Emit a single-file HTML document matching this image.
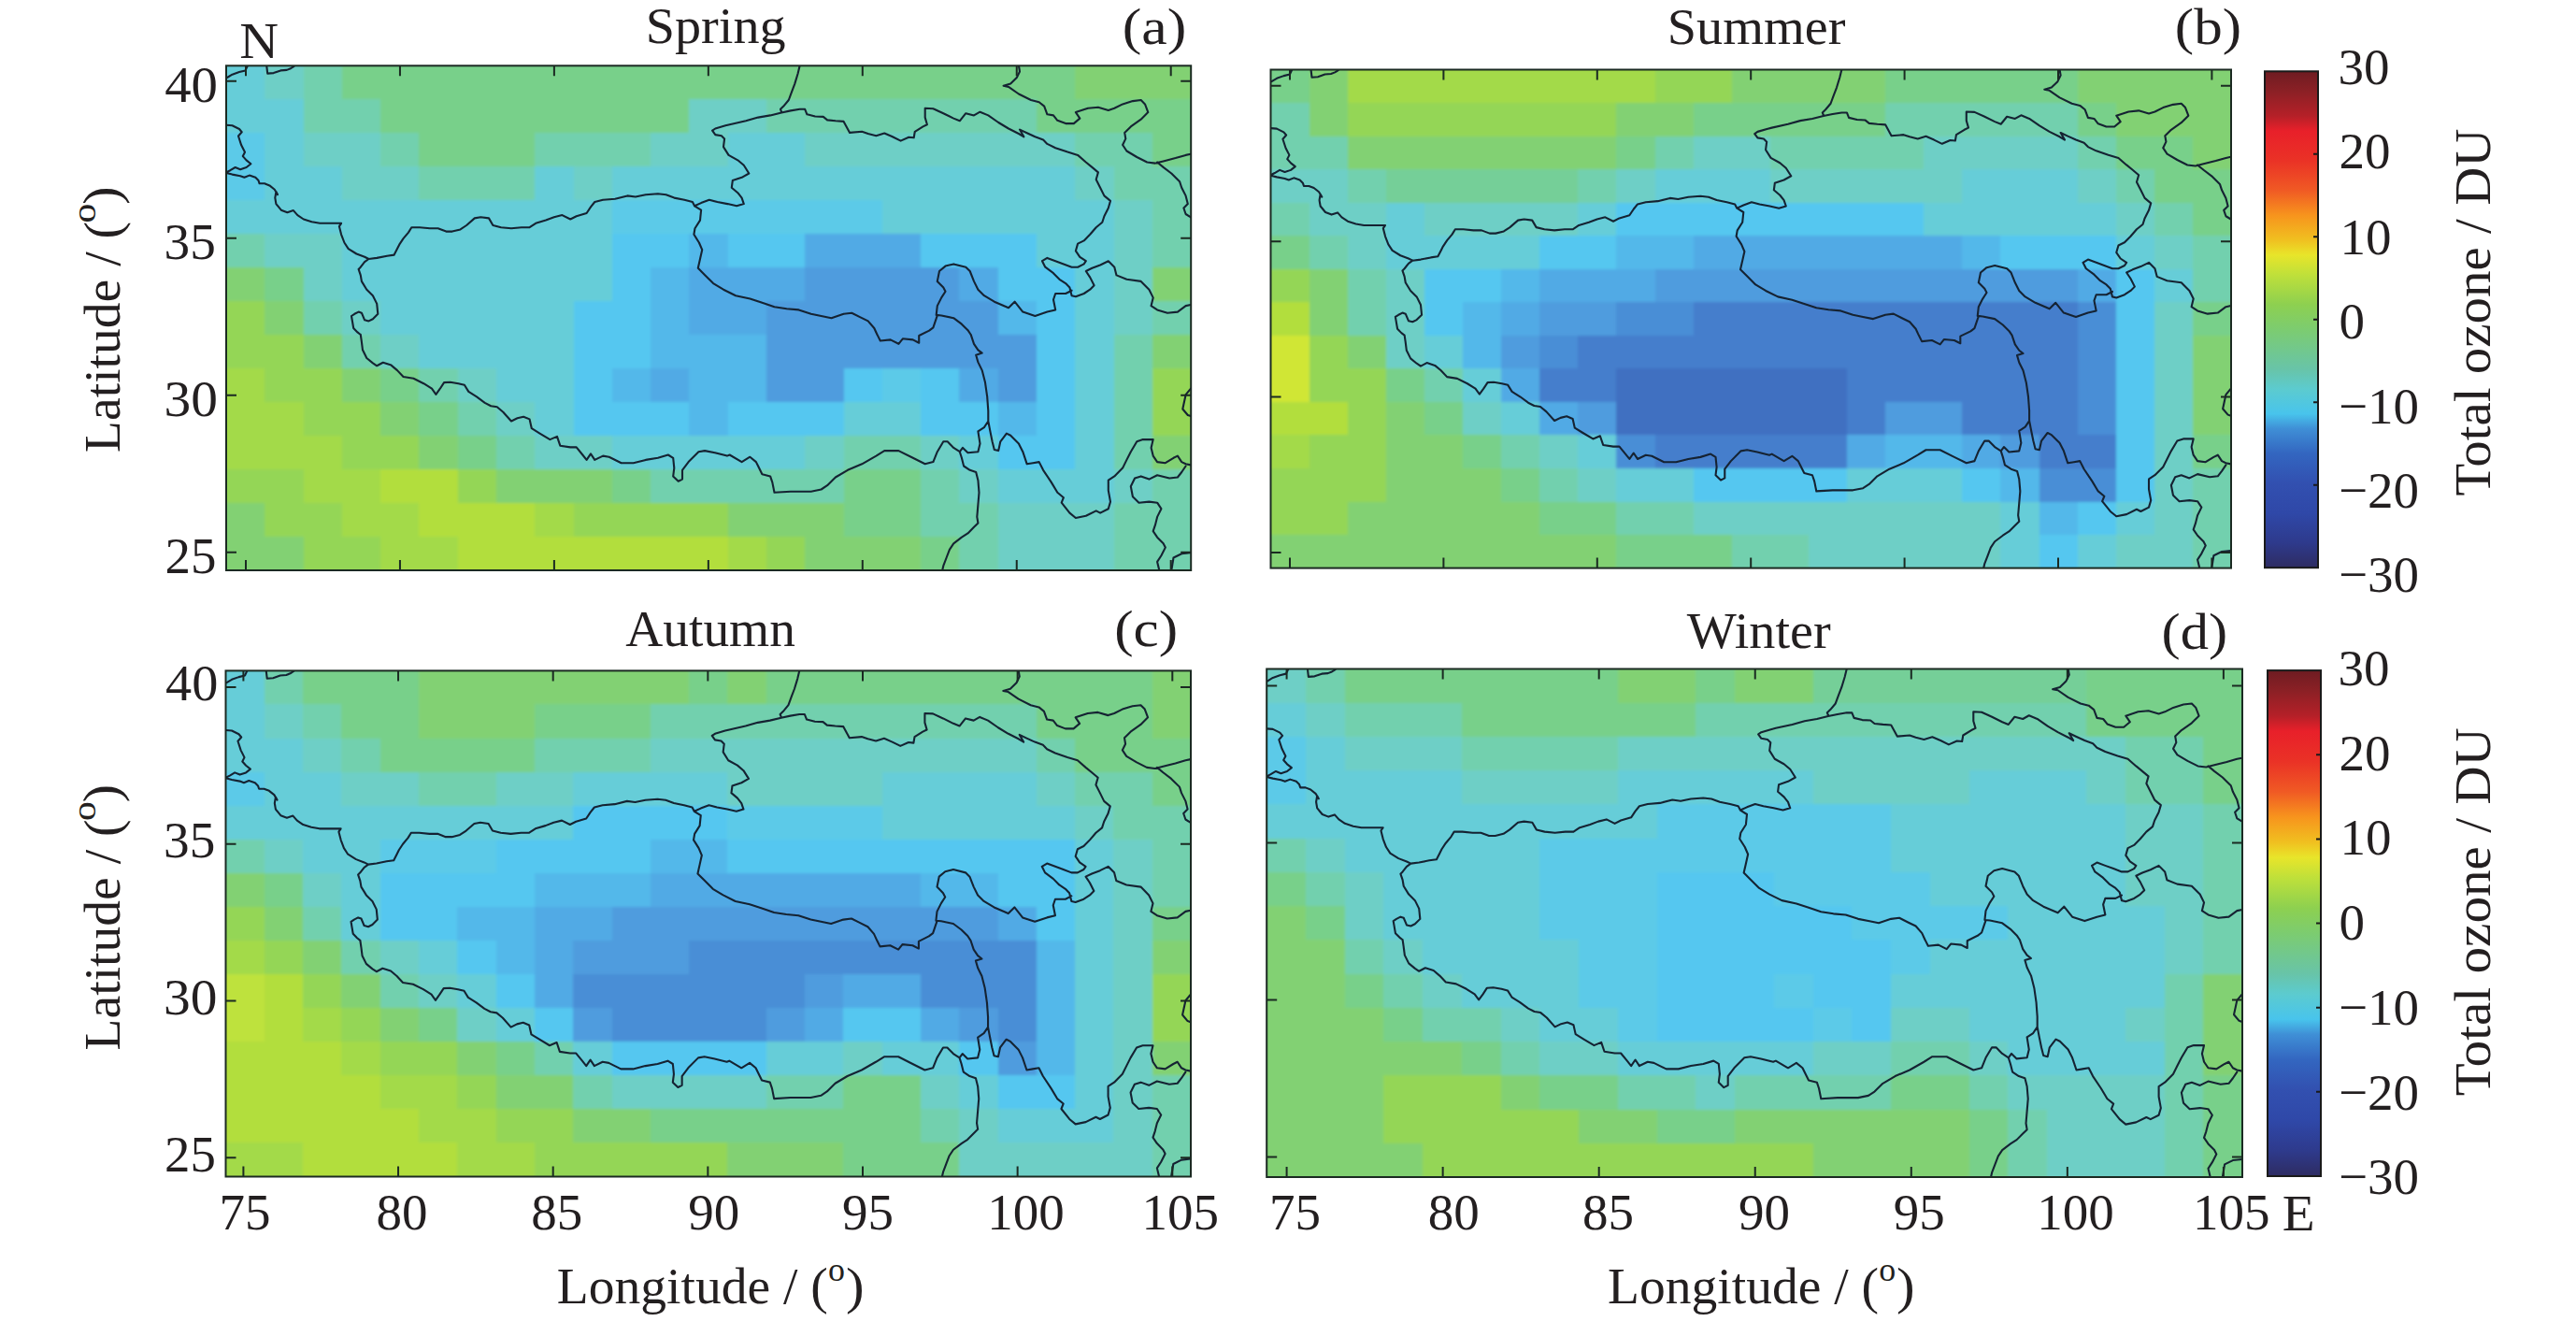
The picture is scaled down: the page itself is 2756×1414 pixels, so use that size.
<!DOCTYPE html><html><head><meta charset="utf-8"><title>Seasonal total ozone anomaly maps</title><style>html,body{margin:0;padding:0;background:#fff;}svg{display:block;}text{font-family:"Liberation Serif","Times New Roman",serif;fill:#231f20;}</style></head><body>
<svg xmlns="http://www.w3.org/2000/svg" width="2756" height="1414" viewBox="0 0 2756 1414">
<defs>
<linearGradient id="cb" x1="0" y1="0" x2="0" y2="1"><stop offset="0" stop-color="#6e1c22"/><stop offset="0.04" stop-color="#8b2025"/><stop offset="0.09" stop-color="#b52028"/><stop offset="0.12" stop-color="#e8202a"/><stop offset="0.18" stop-color="#ea3226"/><stop offset="0.24" stop-color="#f05a24"/><stop offset="0.29" stop-color="#f7941d"/><stop offset="0.34" stop-color="#f0c020"/><stop offset="0.37" stop-color="#e8e52a"/><stop offset="0.41" stop-color="#bfe03a"/><stop offset="0.47" stop-color="#8dd050"/><stop offset="0.52" stop-color="#7ccc70"/><stop offset="0.6" stop-color="#68c4a8"/><stop offset="0.64" stop-color="#5ccbcf"/><stop offset="0.69" stop-color="#48c4ec"/><stop offset="0.72" stop-color="#3f8fd6"/><stop offset="0.77" stop-color="#3366c0"/><stop offset="0.83" stop-color="#3250b0"/><stop offset="0.89" stop-color="#2f48a8"/><stop offset="0.95" stop-color="#2e3a8c"/><stop offset="1" stop-color="#2e2c62"/></linearGradient>
<filter id="bl" x="-2%" y="-2%" width="104%" height="104%"><feGaussianBlur stdDeviation="1.8"/></filter><filter id="bl2" x="-1%" y="-1%" width="102%" height="102%"><feGaussianBlur stdDeviation="0.45"/></filter>
<path id="bd" d="M243.0 83.0 248.5 79.7 256.0 77.0 262.5 75.4 265.0 70.0M285.2 70.0 286.2 78.6 292.7 78.1 300.3 75.4 306.8 74.9 311.0 73.2 314.3 71.1 315.4 70.0M242.0 133.7 248.5 134.2 256.0 138.0 258.7 141.2 255.0 145.5 258.2 155.3 262.0 162.8 259.8 167.1 263.6 171.4 268.4 175.2 263.6 179.0 257.1 181.2 251.7 179.0 246.3 182.2 242.0 184.4M242.0 184.9 248.5 186.6 257.1 188.2 261.4 189.8 266.8 187.6 273.3 189.8 276.5 193.0 277.6 196.3 283.0 196.3 288.4 198.4 293.8 202.7 297.0 208.1 295.4 205.1 294.3 211.6 295.4 218.1 300.8 224.7 307.4 227.3 313.9 225.1 318.3 230.1 324.8 234.5 333.5 237.3 342.2 238.8 353.1 238.8 365.1 238.8 362.9 242.1 365.1 250.8 368.4 259.5 372.7 266.1 381.4 271.5 390.1 274.8 394.5 277.0M394.5 277.0 403.2 275.9 414.1 273.7 421.7 272.6 425.0 266.1 427.2 261.7 431.5 255.2 437.0 248.6 440.3 243.2 449.0 243.2 459.9 244.3 468.6 244.3 477.3 247.6 483.8 247.6 492.5 245.4 499.1 241.0 507.8 233.4 514.3 232.3 523.0 233.4 527.4 241.0 536.1 243.2 547.0 244.3 557.9 243.2 566.6 243.2 573.2 238.8 584.0 235.6 592.8 232.3 601.5 230.1 610.2 234.5 616.7 231.2 627.6 228.0 632.0 221.4 636.3 216.0 645.1 213.8 658.1 212.7 671.2 209.4 679.9 210.5 690.8 208.3 703.9 207.3 712.6 208.3 721.3 211.6 732.2 213.8 740.9 216.0 743.1 220.3M394.5 277.0 390.1 280.2 385.8 285.7 383.6 287.9 385.8 294.4 386.9 300.9 392.3 309.7 398.9 316.2 403.2 324.9 404.3 335.8 398.9 341.2 394.5 343.4 390.1 342.3 386.9 334.7 383.6 333.6 379.3 335.8 376.0 338.0 377.1 344.5 378.2 351.0 382.5 355.4 385.8 358.0M855.7 70.0 853.6 78.7 850.3 89.6 847.0 98.3 843.8 107.0 838.3 113.6 835.0 116.8 836.1 119.7M762.1 139.7 765.3 137.5 776.2 134.3 780.6 133.2 798.0 129.3 811.1 125.6 824.1 123.4 836.1 120.5 845.9 118.4 855.7 116.8 861.2 116.8 863.4 122.3 872.1 124.5 880.8 124.9 885.1 128.4 893.9 129.3 902.6 129.9 909.1 141.9 922.2 140.8 928.7 143.0 937.4 145.2 946.2 142.5 954.9 146.3 963.6 150.6 972.3 146.7 977.7 147.3 978.8 140.8 987.5 135.4 991.9 133.2 989.7 125.6 989.7 115.8 998.4 116.2 1009.3 121.2 1020.2 126.6 1026.8 129.3 1033.3 121.2 1042.0 123.4 1048.5 119.7 1057.3 123.4 1068.2 131.0 1079.0 137.5 1089.9 143.0 1095.4 146.3 1091.0 138.6 1098.7 142.3 1107.4 146.3 1116.1 149.5 1120.4 153.9 1129.2 158.2 1142.2 162.6 1153.1 165.9 1161.8 173.5 1168.4 178.9 1174.9 184.4 1172.7 192.0 1177.1 200.7 1181.4 209.4 1188.0 214.9 1185.8 222.5 1181.4 231.2 1179.3 237.8 1172.7 243.2 1166.2 250.8 1159.7 257.4 1153.1 260.6 1150.9 268.3 1155.3 274.8 1161.8 279.2 1159.7 282.4 1153.1 285.7 1146.6 285.7 1137.9 282.4 1129.2 279.2 1120.4 275.9 1115.0 279.2 1118.3 285.7 1127.0 292.2 1133.5 298.8 1140.1 303.1 1144.4 307.5 1146.6 316.2 1150.9 317.3 1159.7 314.0 1166.2 309.7 1170.6 305.3 1166.2 296.6 1161.8 290.0 1168.4 286.8 1177.1 283.5 1185.8 279.2 1192.3 285.7 1194.5 294.4 1205.4 298.8 1220.7 300.9 1229.4 309.7 1233.7 318.4 1231.6 327.1 1238.1 331.4 1249.0 334.7 1259.9 333.6 1268.6 327.1 1274.0 326.0M1146.6 310.7 1140.1 314.0 1129.2 314.0 1127.0 320.5 1129.2 331.4 1120.4 333.6 1107.4 338.0 1094.3 333.6 1085.6 322.7 1079.0 329.3 1063.8 322.7 1052.9 316.2 1046.4 309.7 1042.0 300.9 1037.7 290.0 1033.3 285.7 1020.2 282.4 1011.5 284.6 1005.0 290.0 1002.8 300.9 1009.3 307.5 1011.5 311.8 1007.2 318.4 1002.8 327.1 1001.7 336.9 1007.2 337.5 1020.2 340.2 1028.9 346.7 1035.5 353.2 1038.7 358.0M762.1 139.7 765.3 144.1 771.9 145.2 775.1 148.4 774.0 157.1 779.5 165.9 789.3 171.3 795.8 176.8 801.3 185.5 793.6 189.8 783.8 193.1 782.8 200.7 789.3 206.2 793.6 211.6 795.8 218.1 788.2 220.3 778.4 218.1 767.5 216.0 758.8 213.8 750.1 217.1 743.1 220.3M743.1 220.3 750.1 224.7 749.0 235.6 743.5 244.3 742.4 250.8 747.9 259.5 751.2 267.2 749.0 277.0 746.8 286.8 754.4 294.4 763.1 303.1 774.0 309.7 787.1 316.2 802.4 319.5 815.4 323.8 828.5 328.2 841.6 330.3 854.6 331.4 867.7 335.8 878.6 338.0 889.5 340.2 902.6 335.8 911.3 334.7 920.0 339.1 928.7 343.4 935.3 351.0 938.5 358.0M1089.9 70.0 1091.0 76.5 1087.8 83.1 1081.2 89.6 1073.6 91.8 1079.0 92.9 1089.9 100.5 1103.0 107.0 1111.7 109.2 1117.2 113.6 1120.4 122.3 1127.0 123.4 1131.3 128.8 1140.1 132.1 1148.8 132.1 1155.3 126.6 1150.9 120.1 1164.0 115.8 1174.9 114.7 1185.8 117.9 1192.3 115.8 1201.1 111.4 1211.9 108.1 1220.7 107.0 1225.0 111.4 1228.3 120.1 1220.7 127.7 1209.8 135.4 1203.2 141.9 1204.3 148.4 1201.1 155.0 1205.4 161.5 1216.3 168.0 1227.2 173.5 1235.9 174.6 1244.6 172.4 1257.7 169.1 1268.6 165.9 1274.0 164.8M1238.1 173.5 1244.6 178.9 1253.3 185.5 1262.1 194.2 1264.2 200.7 1268.6 209.4 1270.8 218.1 1266.4 222.5 1268.6 229.0 1274.0 232.3M385.8 357.9 386.9 365.6 388.0 374.3 392.3 383.0 398.9 388.4 403.2 391.3 409.8 387.8 418.5 390.6 425.0 396.1 431.5 403.0 442.4 404.8 453.3 410.2 462.0 415.7 466.4 421.8 470.8 415.7 475.1 409.1 481.7 408.7 490.4 410.2 496.9 411.8 501.3 418.9 510.0 424.4 518.7 430.9 525.2 434.2 531.8 435.3 538.3 440.7 547.0 450.5 553.5 447.3 560.1 445.7 566.6 448.4 568.8 458.2 577.5 463.6 588.4 470.1 596.0 466.9 599.3 476.7 610.2 478.4 616.7 478.4 623.3 486.5 627.6 491.9 632.0 485.4 636.3 491.9 645.1 487.6 651.6 488.7 664.7 495.2 677.7 495.2 690.8 491.9 703.9 489.8 714.8 486.5 720.2 489.8 721.3 500.6 720.2 509.4 725.7 514.8 730.0 512.6 730.0 502.8 736.6 494.1 747.4 483.2 754.0 482.1 764.9 484.3 777.9 487.6 780.6 486.5 793.6 494.1 802.4 488.7 808.9 494.1 811.1 498.5 815.4 507.2 824.1 509.4 826.3 515.9 828.5 526.8 845.9 525.7 867.7 525.7 878.6 523.5 885.1 519.2 893.9 510.5 906.9 502.8 922.2 496.3 937.4 487.6 946.2 482.1 961.4 482.1 976.7 489.8 989.7 496.3 998.4 494.1 1002.8 483.2 1009.3 472.3 1013.7 472.3 1020.2 478.9 1026.8 483.2 1030.0 478.9 1035.5 484.3 1046.4 483.2 1048.5 474.5 1046.4 461.4 1052.9 457.1 1057.3 450.5M938.5 357.9 941.8 364.5 952.7 363.4 961.4 367.8 965.8 362.3 976.7 363.4 983.2 366.7 983.2 359.0 994.1 353.6 998.4 350.3 1000.6 343.8 1002.8 337.3M1038.7 357.9 1042.0 367.8 1046.4 374.3 1050.7 377.6 1044.2 379.7 1046.4 387.4 1050.7 396.1 1054.0 409.1 1056.2 424.4 1057.3 439.6 1057.3 450.5 1059.4 461.4 1061.6 472.3 1063.8 481.0 1068.2 482.1 1070.3 472.3 1076.9 463.6 1081.2 465.8 1089.9 474.5 1094.3 483.2 1098.7 496.3 1105.2 495.2 1111.7 494.1 1116.1 502.8 1124.8 515.9 1131.3 526.8 1137.9 532.2 1135.7 537.7 1144.4 548.6 1150.9 554.0 1161.8 551.8 1172.7 546.4 1177.1 548.6 1185.8 544.2 1188.0 536.6 1185.8 524.6 1185.8 513.7 1192.3 509.4 1201.1 500.6 1205.4 491.9 1209.8 483.2 1216.3 472.3 1222.8 470.1 1233.7 470.1 1231.6 478.9 1233.7 487.6 1238.1 494.1 1246.8 495.2 1255.5 489.8 1259.9 487.6 1264.2 494.1 1268.6 496.3 1274.0 497.4M1268.6 498.5 1264.2 505.0 1259.9 510.5 1251.2 511.5 1238.1 508.3 1229.4 512.6 1220.7 509.4 1214.1 511.5 1209.8 520.3 1211.9 531.2 1218.5 537.7 1229.4 536.6 1238.1 537.7 1242.4 544.2 1238.1 552.9 1235.9 561.7 1233.7 568.2 1238.1 574.7 1244.6 581.3 1246.8 585.6 1242.4 594.3 1238.1 600.9 1240.3 610.0M1253.3 610.0 1255.5 596.5 1264.2 592.2 1274.0 591.1M1274.0 415.7 1268.6 422.2 1265.3 437.5 1270.8 444.0 1274.0 445.1M1026.8 483.2 1028.9 489.8 1031.1 498.5 1037.7 502.8 1044.2 505.0 1046.4 513.7 1047.5 526.8 1046.4 539.9 1045.3 552.9 1046.4 559.5 1042.0 563.8 1035.5 570.4 1028.9 574.7 1020.2 581.3 1015.9 587.8 1012.6 596.5 1009.3 605.2 1008.2 610.0" fill="none" stroke="#142433" stroke-width="2.1" stroke-linejoin="round" stroke-linecap="round" vector-effect="non-scaling-stroke"/>
<clipPath id="cpa"><rect x="242" y="70.3" width="1032.2" height="539.7"/></clipPath>
<clipPath id="cpb"><rect x="1359.5" y="74.5" width="1027.5" height="533.1"/></clipPath>
<clipPath id="cpc"><rect x="241.5" y="717.4" width="1032.5" height="541.1"/></clipPath>
<clipPath id="cpd"><rect x="1355.2" y="715.5" width="1043.8" height="543.5"/></clipPath>
</defs>
<g clip-path="url(#cpa)"><g filter="url(#bl)" shape-rendering="crispEdges">
<rect x="234" y="62.3" width="49.89" height="44.58" fill="#66CDD8"/>
<rect x="283.29" y="62.3" width="41.89" height="44.58" fill="#6ECFC6"/>
<rect x="324.58" y="62.3" width="41.89" height="44.58" fill="#72D0AE"/>
<rect x="365.86" y="62.3" width="785.07" height="44.58" fill="#78D08A"/>
<rect x="1150.34" y="62.3" width="132.46" height="44.58" fill="#82D173"/>
<rect x="234" y="106.28" width="91.18" height="36.58" fill="#66CDD8"/>
<rect x="324.58" y="106.28" width="83.18" height="36.58" fill="#72D0AE"/>
<rect x="407.15" y="106.28" width="330.9" height="36.58" fill="#78D08A"/>
<rect x="737.46" y="106.28" width="83.18" height="36.58" fill="#6ECFC6"/>
<rect x="820.03" y="106.28" width="289.62" height="36.58" fill="#72D0AE"/>
<rect x="1109.05" y="106.28" width="173.75" height="36.58" fill="#78D08A"/>
<rect x="234" y="142.26" width="49.89" height="36.58" fill="#5BCAE8"/>
<rect x="283.29" y="142.26" width="41.89" height="36.58" fill="#66CDD8"/>
<rect x="324.58" y="142.26" width="83.18" height="36.58" fill="#6ECFC6"/>
<rect x="407.15" y="142.26" width="41.89" height="36.58" fill="#72D0AE"/>
<rect x="448.44" y="142.26" width="124.46" height="36.58" fill="#78D08A"/>
<rect x="572.3" y="142.26" width="124.46" height="36.58" fill="#72D0AE"/>
<rect x="696.17" y="142.26" width="83.18" height="36.58" fill="#6ECFC6"/>
<rect x="778.74" y="142.26" width="83.18" height="36.58" fill="#66CDD8"/>
<rect x="861.32" y="142.26" width="289.62" height="36.58" fill="#6ECFC6"/>
<rect x="1150.34" y="142.26" width="83.18" height="36.58" fill="#72D0AE"/>
<rect x="1232.91" y="142.26" width="49.89" height="36.58" fill="#78D08A"/>
<rect x="234" y="178.24" width="49.89" height="36.58" fill="#5BCAE8"/>
<rect x="283.29" y="178.24" width="83.18" height="36.58" fill="#66CDD8"/>
<rect x="365.86" y="178.24" width="83.18" height="36.58" fill="#6ECFC6"/>
<rect x="448.44" y="178.24" width="124.46" height="36.58" fill="#72D0AE"/>
<rect x="572.3" y="178.24" width="41.89" height="36.58" fill="#66CDD8"/>
<rect x="613.59" y="178.24" width="41.89" height="36.58" fill="#6ECFC6"/>
<rect x="654.88" y="178.24" width="496.06" height="36.58" fill="#66CDD8"/>
<rect x="1150.34" y="178.24" width="41.89" height="36.58" fill="#6ECFC6"/>
<rect x="1191.62" y="178.24" width="91.18" height="36.58" fill="#72D0AE"/>
<rect x="234" y="214.22" width="421.48" height="36.58" fill="#66CDD8"/>
<rect x="654.88" y="214.22" width="289.62" height="36.58" fill="#5BCAE8"/>
<rect x="943.9" y="214.22" width="248.33" height="36.58" fill="#66CDD8"/>
<rect x="1191.62" y="214.22" width="41.89" height="36.58" fill="#6ECFC6"/>
<rect x="1232.91" y="214.22" width="49.89" height="36.58" fill="#72D0AE"/>
<rect x="234" y="250.2" width="49.89" height="36.58" fill="#72D0AE"/>
<rect x="283.29" y="250.2" width="83.18" height="36.58" fill="#6ECFC6"/>
<rect x="365.86" y="250.2" width="289.62" height="36.58" fill="#66CDD8"/>
<rect x="654.88" y="250.2" width="83.18" height="36.58" fill="#54C7F0"/>
<rect x="737.46" y="250.2" width="41.89" height="36.58" fill="#53B8EA"/>
<rect x="778.74" y="250.2" width="83.18" height="36.58" fill="#54C7F0"/>
<rect x="861.32" y="250.2" width="124.46" height="36.58" fill="#51AAE5"/>
<rect x="985.18" y="250.2" width="124.46" height="36.58" fill="#54C7F0"/>
<rect x="1109.05" y="250.2" width="83.18" height="36.58" fill="#66CDD8"/>
<rect x="1191.62" y="250.2" width="41.89" height="36.58" fill="#6ECFC6"/>
<rect x="1232.91" y="250.2" width="49.89" height="36.58" fill="#72D0AE"/>
<rect x="234" y="286.18" width="49.89" height="36.58" fill="#82D173"/>
<rect x="283.29" y="286.18" width="41.89" height="36.58" fill="#78D08A"/>
<rect x="324.58" y="286.18" width="41.89" height="36.58" fill="#6ECFC6"/>
<rect x="365.86" y="286.18" width="289.62" height="36.58" fill="#66CDD8"/>
<rect x="654.88" y="286.18" width="41.89" height="36.58" fill="#54C7F0"/>
<rect x="696.17" y="286.18" width="41.89" height="36.58" fill="#53B8EA"/>
<rect x="737.46" y="286.18" width="124.46" height="36.58" fill="#51AAE5"/>
<rect x="861.32" y="286.18" width="165.75" height="36.58" fill="#4F9CDE"/>
<rect x="1026.47" y="286.18" width="41.89" height="36.58" fill="#51AAE5"/>
<rect x="1067.76" y="286.18" width="83.18" height="36.58" fill="#54C7F0"/>
<rect x="1150.34" y="286.18" width="41.89" height="36.58" fill="#66CDD8"/>
<rect x="1191.62" y="286.18" width="41.89" height="36.58" fill="#6ECFC6"/>
<rect x="1232.91" y="286.18" width="49.89" height="36.58" fill="#82D173"/>
<rect x="234" y="322.16" width="49.89" height="36.58" fill="#94D657"/>
<rect x="283.29" y="322.16" width="41.89" height="36.58" fill="#82D173"/>
<rect x="324.58" y="322.16" width="41.89" height="36.58" fill="#72D0AE"/>
<rect x="365.86" y="322.16" width="41.89" height="36.58" fill="#6ECFC6"/>
<rect x="407.15" y="322.16" width="207.04" height="36.58" fill="#66CDD8"/>
<rect x="613.59" y="322.16" width="83.18" height="36.58" fill="#54C7F0"/>
<rect x="696.17" y="322.16" width="41.89" height="36.58" fill="#53B8EA"/>
<rect x="737.46" y="322.16" width="83.18" height="36.58" fill="#51AAE5"/>
<rect x="820.03" y="322.16" width="248.33" height="36.58" fill="#4F9CDE"/>
<rect x="1067.76" y="322.16" width="41.89" height="36.58" fill="#53B8EA"/>
<rect x="1109.05" y="322.16" width="41.89" height="36.58" fill="#54C7F0"/>
<rect x="1150.34" y="322.16" width="41.89" height="36.58" fill="#66CDD8"/>
<rect x="1191.62" y="322.16" width="41.89" height="36.58" fill="#6ECFC6"/>
<rect x="1232.91" y="322.16" width="49.89" height="36.58" fill="#72D0AE"/>
<rect x="234" y="358.14" width="91.18" height="36.58" fill="#94D657"/>
<rect x="324.58" y="358.14" width="41.89" height="36.58" fill="#82D173"/>
<rect x="365.86" y="358.14" width="41.89" height="36.58" fill="#72D0AE"/>
<rect x="407.15" y="358.14" width="41.89" height="36.58" fill="#6ECFC6"/>
<rect x="448.44" y="358.14" width="165.75" height="36.58" fill="#66CDD8"/>
<rect x="613.59" y="358.14" width="83.18" height="36.58" fill="#54C7F0"/>
<rect x="696.17" y="358.14" width="124.46" height="36.58" fill="#53B8EA"/>
<rect x="820.03" y="358.14" width="289.62" height="36.58" fill="#4F9CDE"/>
<rect x="1109.05" y="358.14" width="41.89" height="36.58" fill="#54C7F0"/>
<rect x="1150.34" y="358.14" width="41.89" height="36.58" fill="#66CDD8"/>
<rect x="1191.62" y="358.14" width="41.89" height="36.58" fill="#72D0AE"/>
<rect x="1232.91" y="358.14" width="49.89" height="36.58" fill="#82D173"/>
<rect x="234" y="394.12" width="49.89" height="36.58" fill="#A3DA4A"/>
<rect x="283.29" y="394.12" width="83.18" height="36.58" fill="#94D657"/>
<rect x="365.86" y="394.12" width="41.89" height="36.58" fill="#82D173"/>
<rect x="407.15" y="394.12" width="41.89" height="36.58" fill="#78D08A"/>
<rect x="448.44" y="394.12" width="41.89" height="36.58" fill="#72D0AE"/>
<rect x="489.73" y="394.12" width="41.89" height="36.58" fill="#6ECFC6"/>
<rect x="531.02" y="394.12" width="83.18" height="36.58" fill="#66CDD8"/>
<rect x="613.59" y="394.12" width="41.89" height="36.58" fill="#54C7F0"/>
<rect x="654.88" y="394.12" width="41.89" height="36.58" fill="#53B8EA"/>
<rect x="696.17" y="394.12" width="41.89" height="36.58" fill="#51AAE5"/>
<rect x="737.46" y="394.12" width="83.18" height="36.58" fill="#53B8EA"/>
<rect x="820.03" y="394.12" width="83.18" height="36.58" fill="#4F9CDE"/>
<rect x="902.61" y="394.12" width="41.89" height="36.58" fill="#54C7F0"/>
<rect x="943.9" y="394.12" width="41.89" height="36.58" fill="#5BCAE8"/>
<rect x="985.18" y="394.12" width="41.89" height="36.58" fill="#54C7F0"/>
<rect x="1026.47" y="394.12" width="41.89" height="36.58" fill="#51AAE5"/>
<rect x="1067.76" y="394.12" width="41.89" height="36.58" fill="#4F9CDE"/>
<rect x="1109.05" y="394.12" width="41.89" height="36.58" fill="#54C7F0"/>
<rect x="1150.34" y="394.12" width="41.89" height="36.58" fill="#66CDD8"/>
<rect x="1191.62" y="394.12" width="41.89" height="36.58" fill="#72D0AE"/>
<rect x="1232.91" y="394.12" width="49.89" height="36.58" fill="#94D657"/>
<rect x="234" y="430.1" width="91.18" height="36.58" fill="#A3DA4A"/>
<rect x="324.58" y="430.1" width="83.18" height="36.58" fill="#94D657"/>
<rect x="407.15" y="430.1" width="41.89" height="36.58" fill="#82D173"/>
<rect x="448.44" y="430.1" width="41.89" height="36.58" fill="#78D08A"/>
<rect x="489.73" y="430.1" width="41.89" height="36.58" fill="#72D0AE"/>
<rect x="531.02" y="430.1" width="41.89" height="36.58" fill="#6ECFC6"/>
<rect x="572.3" y="430.1" width="41.89" height="36.58" fill="#66CDD8"/>
<rect x="613.59" y="430.1" width="124.46" height="36.58" fill="#54C7F0"/>
<rect x="737.46" y="430.1" width="41.89" height="36.58" fill="#53B8EA"/>
<rect x="778.74" y="430.1" width="124.46" height="36.58" fill="#54C7F0"/>
<rect x="902.61" y="430.1" width="83.18" height="36.58" fill="#66CDD8"/>
<rect x="985.18" y="430.1" width="83.18" height="36.58" fill="#54C7F0"/>
<rect x="1067.76" y="430.1" width="41.89" height="36.58" fill="#53B8EA"/>
<rect x="1109.05" y="430.1" width="41.89" height="36.58" fill="#54C7F0"/>
<rect x="1150.34" y="430.1" width="41.89" height="36.58" fill="#66CDD8"/>
<rect x="1191.62" y="430.1" width="41.89" height="36.58" fill="#72D0AE"/>
<rect x="1232.91" y="430.1" width="49.89" height="36.58" fill="#94D657"/>
<rect x="234" y="466.08" width="132.46" height="36.58" fill="#A3DA4A"/>
<rect x="365.86" y="466.08" width="83.18" height="36.58" fill="#94D657"/>
<rect x="448.44" y="466.08" width="41.89" height="36.58" fill="#82D173"/>
<rect x="489.73" y="466.08" width="41.89" height="36.58" fill="#78D08A"/>
<rect x="531.02" y="466.08" width="41.89" height="36.58" fill="#72D0AE"/>
<rect x="572.3" y="466.08" width="83.18" height="36.58" fill="#6ECFC6"/>
<rect x="654.88" y="466.08" width="207.04" height="36.58" fill="#66CDD8"/>
<rect x="861.32" y="466.08" width="41.89" height="36.58" fill="#6ECFC6"/>
<rect x="902.61" y="466.08" width="83.18" height="36.58" fill="#72D0AE"/>
<rect x="985.18" y="466.08" width="41.89" height="36.58" fill="#6ECFC6"/>
<rect x="1026.47" y="466.08" width="41.89" height="36.58" fill="#66CDD8"/>
<rect x="1067.76" y="466.08" width="83.18" height="36.58" fill="#54C7F0"/>
<rect x="1150.34" y="466.08" width="41.89" height="36.58" fill="#66CDD8"/>
<rect x="1191.62" y="466.08" width="41.89" height="36.58" fill="#72D0AE"/>
<rect x="1232.91" y="466.08" width="49.89" height="36.58" fill="#82D173"/>
<rect x="234" y="502.06" width="91.18" height="36.58" fill="#94D657"/>
<rect x="324.58" y="502.06" width="83.18" height="36.58" fill="#A3DA4A"/>
<rect x="407.15" y="502.06" width="83.18" height="36.58" fill="#B2DE3E"/>
<rect x="489.73" y="502.06" width="41.89" height="36.58" fill="#94D657"/>
<rect x="531.02" y="502.06" width="124.46" height="36.58" fill="#82D173"/>
<rect x="654.88" y="502.06" width="41.89" height="36.58" fill="#78D08A"/>
<rect x="696.17" y="502.06" width="207.04" height="36.58" fill="#72D0AE"/>
<rect x="902.61" y="502.06" width="83.18" height="36.58" fill="#78D08A"/>
<rect x="985.18" y="502.06" width="41.89" height="36.58" fill="#72D0AE"/>
<rect x="1026.47" y="502.06" width="41.89" height="36.58" fill="#6ECFC6"/>
<rect x="1067.76" y="502.06" width="124.46" height="36.58" fill="#66CDD8"/>
<rect x="1191.62" y="502.06" width="41.89" height="36.58" fill="#6ECFC6"/>
<rect x="1232.91" y="502.06" width="49.89" height="36.58" fill="#72D0AE"/>
<rect x="234" y="538.04" width="49.89" height="36.58" fill="#82D173"/>
<rect x="283.29" y="538.04" width="83.18" height="36.58" fill="#94D657"/>
<rect x="365.86" y="538.04" width="83.18" height="36.58" fill="#A3DA4A"/>
<rect x="448.44" y="538.04" width="124.46" height="36.58" fill="#B2DE3E"/>
<rect x="572.3" y="538.04" width="41.89" height="36.58" fill="#A3DA4A"/>
<rect x="613.59" y="538.04" width="165.75" height="36.58" fill="#94D657"/>
<rect x="778.74" y="538.04" width="124.46" height="36.58" fill="#82D173"/>
<rect x="902.61" y="538.04" width="83.18" height="36.58" fill="#78D08A"/>
<rect x="985.18" y="538.04" width="83.18" height="36.58" fill="#72D0AE"/>
<rect x="1067.76" y="538.04" width="124.46" height="36.58" fill="#6ECFC6"/>
<rect x="1191.62" y="538.04" width="91.18" height="36.58" fill="#72D0AE"/>
<rect x="234" y="574.02" width="91.18" height="44.58" fill="#82D173"/>
<rect x="324.58" y="574.02" width="83.18" height="44.58" fill="#94D657"/>
<rect x="407.15" y="574.02" width="83.18" height="44.58" fill="#A3DA4A"/>
<rect x="489.73" y="574.02" width="289.62" height="44.58" fill="#B2DE3E"/>
<rect x="778.74" y="574.02" width="41.89" height="44.58" fill="#A3DA4A"/>
<rect x="820.03" y="574.02" width="41.89" height="44.58" fill="#94D657"/>
<rect x="861.32" y="574.02" width="124.46" height="44.58" fill="#82D173"/>
<rect x="985.18" y="574.02" width="41.89" height="44.58" fill="#78D08A"/>
<rect x="1026.47" y="574.02" width="41.89" height="44.58" fill="#72D0AE"/>
<rect x="1067.76" y="574.02" width="124.46" height="44.58" fill="#6ECFC6"/>
<rect x="1191.62" y="574.02" width="91.18" height="44.58" fill="#72D0AE"/>
</g></g>
<g clip-path="url(#cpa)"><use href="#bd" filter="url(#bl2)" transform="translate(242 70.3) scale(1.00000 1.00000) translate(-242 -70.3)"/></g>
<path d="M263 610v-11M263 70.3v11M427.95 610v-11M427.95 70.3v11M592.9 610v-11M592.9 70.3v11M757.85 610v-11M757.85 70.3v11M922.8 610v-11M922.8 70.3v11M1087.75 610v-11M1087.75 70.3v11M1252.7 610v-11M1252.7 70.3v11M242 86.8h11M1274.2 86.8h-11M242 254.8h11M1274.2 254.8h-11M242 422.8h11M1274.2 422.8h-11M242 590.8h11M1274.2 590.8h-11" stroke="#1b2a22" stroke-width="2" fill="none"/>
<rect x="242" y="70.3" width="1032.2" height="539.7" fill="none" stroke="#1b2a22" stroke-width="2"/>
<g clip-path="url(#cpb)"><g filter="url(#bl)" shape-rendering="crispEdges">
<rect x="1351.5" y="66.5" width="49.7" height="44.14" fill="#78D08A"/>
<rect x="1400.6" y="66.5" width="41.7" height="44.14" fill="#82D173"/>
<rect x="1441.7" y="66.5" width="329.4" height="44.14" fill="#A3DA4A"/>
<rect x="1770.5" y="66.5" width="82.8" height="44.14" fill="#94D657"/>
<rect x="1852.7" y="66.5" width="165" height="44.14" fill="#82D173"/>
<rect x="2017.1" y="66.5" width="206.1" height="44.14" fill="#78D08A"/>
<rect x="2222.6" y="66.5" width="173" height="44.14" fill="#82D173"/>
<rect x="1351.5" y="110.04" width="49.7" height="36.14" fill="#72D0AE"/>
<rect x="1400.6" y="110.04" width="41.7" height="36.14" fill="#82D173"/>
<rect x="1441.7" y="110.04" width="288.3" height="36.14" fill="#94D657"/>
<rect x="1729.4" y="110.04" width="82.8" height="36.14" fill="#82D173"/>
<rect x="1811.6" y="110.04" width="206.1" height="36.14" fill="#78D08A"/>
<rect x="2017.1" y="110.04" width="206.1" height="36.14" fill="#72D0AE"/>
<rect x="2222.6" y="110.04" width="41.7" height="36.14" fill="#78D08A"/>
<rect x="2263.7" y="110.04" width="131.9" height="36.14" fill="#82D173"/>
<rect x="1351.5" y="145.58" width="90.8" height="36.14" fill="#72D0AE"/>
<rect x="1441.7" y="145.58" width="288.3" height="36.14" fill="#82D173"/>
<rect x="1729.4" y="145.58" width="41.7" height="36.14" fill="#78D08A"/>
<rect x="1770.5" y="145.58" width="41.7" height="36.14" fill="#72D0AE"/>
<rect x="1811.6" y="145.58" width="82.8" height="36.14" fill="#6ECFC6"/>
<rect x="1893.8" y="145.58" width="165" height="36.14" fill="#72D0AE"/>
<rect x="2058.2" y="145.58" width="165" height="36.14" fill="#6ECFC6"/>
<rect x="2222.6" y="145.58" width="41.7" height="36.14" fill="#72D0AE"/>
<rect x="2263.7" y="145.58" width="82.8" height="36.14" fill="#78D08A"/>
<rect x="2345.9" y="145.58" width="49.7" height="36.14" fill="#82D173"/>
<rect x="1351.5" y="181.12" width="90.8" height="36.14" fill="#6ECFC6"/>
<rect x="1441.7" y="181.12" width="41.7" height="36.14" fill="#72D0AE"/>
<rect x="1482.8" y="181.12" width="206.1" height="36.14" fill="#74CF98"/>
<rect x="1688.3" y="181.12" width="41.7" height="36.14" fill="#72D0AE"/>
<rect x="1729.4" y="181.12" width="41.7" height="36.14" fill="#6ECFC6"/>
<rect x="1770.5" y="181.12" width="123.9" height="36.14" fill="#66CDD8"/>
<rect x="1893.8" y="181.12" width="206.1" height="36.14" fill="#6ECFC6"/>
<rect x="2099.3" y="181.12" width="123.9" height="36.14" fill="#66CDD8"/>
<rect x="2222.6" y="181.12" width="41.7" height="36.14" fill="#6ECFC6"/>
<rect x="2263.7" y="181.12" width="41.7" height="36.14" fill="#72D0AE"/>
<rect x="2304.8" y="181.12" width="90.8" height="36.14" fill="#78D08A"/>
<rect x="1351.5" y="216.66" width="49.7" height="36.14" fill="#72D0AE"/>
<rect x="1400.6" y="216.66" width="82.8" height="36.14" fill="#6ECFC6"/>
<rect x="1482.8" y="216.66" width="41.7" height="36.14" fill="#66CDD8"/>
<rect x="1523.9" y="216.66" width="165" height="36.14" fill="#6ECFC6"/>
<rect x="1688.3" y="216.66" width="41.7" height="36.14" fill="#66CDD8"/>
<rect x="1729.4" y="216.66" width="329.4" height="36.14" fill="#54C7F0"/>
<rect x="2058.2" y="216.66" width="206.1" height="36.14" fill="#66CDD8"/>
<rect x="2263.7" y="216.66" width="41.7" height="36.14" fill="#6ECFC6"/>
<rect x="2304.8" y="216.66" width="41.7" height="36.14" fill="#72D0AE"/>
<rect x="2345.9" y="216.66" width="49.7" height="36.14" fill="#78D08A"/>
<rect x="1351.5" y="252.2" width="49.7" height="36.14" fill="#78D08A"/>
<rect x="1400.6" y="252.2" width="41.7" height="36.14" fill="#72D0AE"/>
<rect x="1441.7" y="252.2" width="41.7" height="36.14" fill="#6ECFC6"/>
<rect x="1482.8" y="252.2" width="165" height="36.14" fill="#66CDD8"/>
<rect x="1647.2" y="252.2" width="82.8" height="36.14" fill="#54C7F0"/>
<rect x="1729.4" y="252.2" width="82.8" height="36.14" fill="#53B8EA"/>
<rect x="1811.6" y="252.2" width="288.3" height="36.14" fill="#51AAE5"/>
<rect x="2099.3" y="252.2" width="41.7" height="36.14" fill="#53B8EA"/>
<rect x="2140.4" y="252.2" width="123.9" height="36.14" fill="#54C7F0"/>
<rect x="2263.7" y="252.2" width="41.7" height="36.14" fill="#66CDD8"/>
<rect x="2304.8" y="252.2" width="41.7" height="36.14" fill="#6ECFC6"/>
<rect x="2345.9" y="252.2" width="49.7" height="36.14" fill="#72D0AE"/>
<rect x="1351.5" y="287.74" width="49.7" height="36.14" fill="#94D657"/>
<rect x="1400.6" y="287.74" width="41.7" height="36.14" fill="#82D173"/>
<rect x="1441.7" y="287.74" width="41.7" height="36.14" fill="#72D0AE"/>
<rect x="1482.8" y="287.74" width="41.7" height="36.14" fill="#6ECFC6"/>
<rect x="1523.9" y="287.74" width="82.8" height="36.14" fill="#54C7F0"/>
<rect x="1606.1" y="287.74" width="41.7" height="36.14" fill="#53B8EA"/>
<rect x="1647.2" y="287.74" width="123.9" height="36.14" fill="#51AAE5"/>
<rect x="1770.5" y="287.74" width="452.7" height="36.14" fill="#4F9CDE"/>
<rect x="2222.6" y="287.74" width="41.7" height="36.14" fill="#51AAE5"/>
<rect x="2263.7" y="287.74" width="41.7" height="36.14" fill="#54C7F0"/>
<rect x="2304.8" y="287.74" width="41.7" height="36.14" fill="#66CDD8"/>
<rect x="2345.9" y="287.74" width="49.7" height="36.14" fill="#72D0AE"/>
<rect x="1351.5" y="323.28" width="49.7" height="36.14" fill="#B2DE3E"/>
<rect x="1400.6" y="323.28" width="41.7" height="36.14" fill="#82D173"/>
<rect x="1441.7" y="323.28" width="41.7" height="36.14" fill="#72D0AE"/>
<rect x="1482.8" y="323.28" width="41.7" height="36.14" fill="#6ECFC6"/>
<rect x="1523.9" y="323.28" width="41.7" height="36.14" fill="#54C7F0"/>
<rect x="1565" y="323.28" width="41.7" height="36.14" fill="#53B8EA"/>
<rect x="1606.1" y="323.28" width="41.7" height="36.14" fill="#51AAE5"/>
<rect x="1647.2" y="323.28" width="82.8" height="36.14" fill="#4F9CDE"/>
<rect x="1729.4" y="323.28" width="82.8" height="36.14" fill="#4A8ED6"/>
<rect x="1811.6" y="323.28" width="411.6" height="36.14" fill="#457ECC"/>
<rect x="2222.6" y="323.28" width="41.7" height="36.14" fill="#4A8ED6"/>
<rect x="2263.7" y="323.28" width="41.7" height="36.14" fill="#54C7F0"/>
<rect x="2304.8" y="323.28" width="41.7" height="36.14" fill="#6ECFC6"/>
<rect x="2345.9" y="323.28" width="49.7" height="36.14" fill="#78D08A"/>
<rect x="1351.5" y="358.82" width="49.7" height="36.14" fill="#D0E634"/>
<rect x="1400.6" y="358.82" width="41.7" height="36.14" fill="#94D657"/>
<rect x="1441.7" y="358.82" width="41.7" height="36.14" fill="#82D173"/>
<rect x="1482.8" y="358.82" width="41.7" height="36.14" fill="#6ECFC6"/>
<rect x="1523.9" y="358.82" width="41.7" height="36.14" fill="#66CDD8"/>
<rect x="1565" y="358.82" width="41.7" height="36.14" fill="#53B8EA"/>
<rect x="1606.1" y="358.82" width="41.7" height="36.14" fill="#4F9CDE"/>
<rect x="1647.2" y="358.82" width="41.7" height="36.14" fill="#4A8ED6"/>
<rect x="1688.3" y="358.82" width="534.9" height="36.14" fill="#457ECC"/>
<rect x="2222.6" y="358.82" width="41.7" height="36.14" fill="#4A8ED6"/>
<rect x="2263.7" y="358.82" width="41.7" height="36.14" fill="#54C7F0"/>
<rect x="2304.8" y="358.82" width="41.7" height="36.14" fill="#6ECFC6"/>
<rect x="2345.9" y="358.82" width="49.7" height="36.14" fill="#82D173"/>
<rect x="1351.5" y="394.36" width="49.7" height="36.14" fill="#D0E634"/>
<rect x="1400.6" y="394.36" width="82.8" height="36.14" fill="#94D657"/>
<rect x="1482.8" y="394.36" width="41.7" height="36.14" fill="#78D08A"/>
<rect x="1523.9" y="394.36" width="41.7" height="36.14" fill="#72D0AE"/>
<rect x="1565" y="394.36" width="41.7" height="36.14" fill="#66CDD8"/>
<rect x="1606.1" y="394.36" width="41.7" height="36.14" fill="#51AAE5"/>
<rect x="1647.2" y="394.36" width="82.8" height="36.14" fill="#457ECC"/>
<rect x="1729.4" y="394.36" width="247.2" height="36.14" fill="#416FC1"/>
<rect x="1976" y="394.36" width="247.2" height="36.14" fill="#457ECC"/>
<rect x="2222.6" y="394.36" width="41.7" height="36.14" fill="#4A8ED6"/>
<rect x="2263.7" y="394.36" width="41.7" height="36.14" fill="#54C7F0"/>
<rect x="2304.8" y="394.36" width="41.7" height="36.14" fill="#6ECFC6"/>
<rect x="2345.9" y="394.36" width="49.7" height="36.14" fill="#82D173"/>
<rect x="1351.5" y="429.9" width="90.8" height="36.14" fill="#B2DE3E"/>
<rect x="1441.7" y="429.9" width="41.7" height="36.14" fill="#94D657"/>
<rect x="1482.8" y="429.9" width="41.7" height="36.14" fill="#82D173"/>
<rect x="1523.9" y="429.9" width="41.7" height="36.14" fill="#78D08A"/>
<rect x="1565" y="429.9" width="41.7" height="36.14" fill="#6ECFC6"/>
<rect x="1606.1" y="429.9" width="41.7" height="36.14" fill="#66CDD8"/>
<rect x="1647.2" y="429.9" width="41.7" height="36.14" fill="#51AAE5"/>
<rect x="1688.3" y="429.9" width="41.7" height="36.14" fill="#4F9CDE"/>
<rect x="1729.4" y="429.9" width="247.2" height="36.14" fill="#416FC1"/>
<rect x="1976" y="429.9" width="41.7" height="36.14" fill="#457ECC"/>
<rect x="2017.1" y="429.9" width="82.8" height="36.14" fill="#4F9CDE"/>
<rect x="2099.3" y="429.9" width="123.9" height="36.14" fill="#457ECC"/>
<rect x="2222.6" y="429.9" width="41.7" height="36.14" fill="#4A8ED6"/>
<rect x="2263.7" y="429.9" width="41.7" height="36.14" fill="#54C7F0"/>
<rect x="2304.8" y="429.9" width="41.7" height="36.14" fill="#6ECFC6"/>
<rect x="2345.9" y="429.9" width="49.7" height="36.14" fill="#82D173"/>
<rect x="1351.5" y="465.44" width="49.7" height="36.14" fill="#A3DA4A"/>
<rect x="1400.6" y="465.44" width="82.8" height="36.14" fill="#94D657"/>
<rect x="1482.8" y="465.44" width="82.8" height="36.14" fill="#82D173"/>
<rect x="1565" y="465.44" width="41.7" height="36.14" fill="#78D08A"/>
<rect x="1606.1" y="465.44" width="41.7" height="36.14" fill="#72D0AE"/>
<rect x="1647.2" y="465.44" width="41.7" height="36.14" fill="#6ECFC6"/>
<rect x="1688.3" y="465.44" width="41.7" height="36.14" fill="#66CDD8"/>
<rect x="1729.4" y="465.44" width="41.7" height="36.14" fill="#4A8ED6"/>
<rect x="1770.5" y="465.44" width="206.1" height="36.14" fill="#457ECC"/>
<rect x="1976" y="465.44" width="41.7" height="36.14" fill="#51AAE5"/>
<rect x="2017.1" y="465.44" width="82.8" height="36.14" fill="#53B8EA"/>
<rect x="2099.3" y="465.44" width="41.7" height="36.14" fill="#51AAE5"/>
<rect x="2140.4" y="465.44" width="41.7" height="36.14" fill="#4F9CDE"/>
<rect x="2181.5" y="465.44" width="82.8" height="36.14" fill="#457ECC"/>
<rect x="2263.7" y="465.44" width="41.7" height="36.14" fill="#54C7F0"/>
<rect x="2304.8" y="465.44" width="41.7" height="36.14" fill="#6ECFC6"/>
<rect x="2345.9" y="465.44" width="49.7" height="36.14" fill="#78D08A"/>
<rect x="1351.5" y="500.98" width="131.9" height="36.14" fill="#94D657"/>
<rect x="1482.8" y="500.98" width="123.9" height="36.14" fill="#82D173"/>
<rect x="1606.1" y="500.98" width="41.7" height="36.14" fill="#78D08A"/>
<rect x="1647.2" y="500.98" width="41.7" height="36.14" fill="#72D0AE"/>
<rect x="1688.3" y="500.98" width="41.7" height="36.14" fill="#6ECFC6"/>
<rect x="1729.4" y="500.98" width="82.8" height="36.14" fill="#66CDD8"/>
<rect x="1811.6" y="500.98" width="165" height="36.14" fill="#54C7F0"/>
<rect x="1976" y="500.98" width="123.9" height="36.14" fill="#66CDD8"/>
<rect x="2099.3" y="500.98" width="41.7" height="36.14" fill="#54C7F0"/>
<rect x="2140.4" y="500.98" width="41.7" height="36.14" fill="#53B8EA"/>
<rect x="2181.5" y="500.98" width="82.8" height="36.14" fill="#4A8ED6"/>
<rect x="2263.7" y="500.98" width="41.7" height="36.14" fill="#54C7F0"/>
<rect x="2304.8" y="500.98" width="41.7" height="36.14" fill="#6ECFC6"/>
<rect x="2345.9" y="500.98" width="49.7" height="36.14" fill="#72D0AE"/>
<rect x="1351.5" y="536.52" width="90.8" height="36.14" fill="#94D657"/>
<rect x="1441.7" y="536.52" width="206.1" height="36.14" fill="#82D173"/>
<rect x="1647.2" y="536.52" width="82.8" height="36.14" fill="#78D08A"/>
<rect x="1729.4" y="536.52" width="82.8" height="36.14" fill="#72D0AE"/>
<rect x="1811.6" y="536.52" width="329.4" height="36.14" fill="#6ECFC6"/>
<rect x="2140.4" y="536.52" width="41.7" height="36.14" fill="#66CDD8"/>
<rect x="2181.5" y="536.52" width="41.7" height="36.14" fill="#53B8EA"/>
<rect x="2222.6" y="536.52" width="41.7" height="36.14" fill="#54C7F0"/>
<rect x="2263.7" y="536.52" width="41.7" height="36.14" fill="#66CDD8"/>
<rect x="2304.8" y="536.52" width="41.7" height="36.14" fill="#6ECFC6"/>
<rect x="2345.9" y="536.52" width="49.7" height="36.14" fill="#72D0AE"/>
<rect x="1351.5" y="572.06" width="378.5" height="44.14" fill="#82D173"/>
<rect x="1729.4" y="572.06" width="123.9" height="44.14" fill="#78D08A"/>
<rect x="1852.7" y="572.06" width="82.8" height="44.14" fill="#72D0AE"/>
<rect x="1934.9" y="572.06" width="206.1" height="44.14" fill="#6ECFC6"/>
<rect x="2140.4" y="572.06" width="41.7" height="44.14" fill="#66CDD8"/>
<rect x="2181.5" y="572.06" width="41.7" height="44.14" fill="#54C7F0"/>
<rect x="2222.6" y="572.06" width="41.7" height="44.14" fill="#66CDD8"/>
<rect x="2263.7" y="572.06" width="82.8" height="44.14" fill="#6ECFC6"/>
<rect x="2345.9" y="572.06" width="49.7" height="44.14" fill="#72D0AE"/>
</g></g>
<g clip-path="url(#cpb)"><use href="#bd" filter="url(#bl2)" transform="translate(1359.5 74.5) scale(0.99545 0.98777) translate(-242 -70.3)"/></g>
<path d="M1380 607.6v-11M1380 74.5v11M1544.4 607.6v-11M1544.4 74.5v11M1708.8 607.6v-11M1708.8 74.5v11M1873.2 607.6v-11M1873.2 74.5v11M2037.6 607.6v-11M2037.6 74.5v11M2202 607.6v-11M2202 74.5v11M2366.4 607.6v-11M2366.4 74.5v11M1359.5 91.8h11M2387 91.8h-11M1359.5 258.2h11M2387 258.2h-11M1359.5 424.6h11M2387 424.6h-11M1359.5 591h11M2387 591h-11" stroke="#1b2a22" stroke-width="2" fill="none"/>
<rect x="1359.5" y="74.5" width="1027.5" height="533.1" fill="none" stroke="#1b2a22" stroke-width="2"/>
<g clip-path="url(#cpc)"><g filter="url(#bl)" shape-rendering="crispEdges">
<rect x="233.5" y="709.4" width="49.9" height="44.67" fill="#66CDD8"/>
<rect x="282.8" y="709.4" width="41.9" height="44.67" fill="#72D0AE"/>
<rect x="324.1" y="709.4" width="124.5" height="44.67" fill="#78D08A"/>
<rect x="448" y="709.4" width="289.7" height="44.67" fill="#82D173"/>
<rect x="737.1" y="709.4" width="41.9" height="44.67" fill="#78D08A"/>
<rect x="778.4" y="709.4" width="41.9" height="44.67" fill="#82D173"/>
<rect x="819.7" y="709.4" width="413.6" height="44.67" fill="#78D08A"/>
<rect x="1232.7" y="709.4" width="49.9" height="44.67" fill="#82D173"/>
<rect x="233.5" y="753.47" width="49.9" height="36.67" fill="#66CDD8"/>
<rect x="282.8" y="753.47" width="41.9" height="36.67" fill="#6ECFC6"/>
<rect x="324.1" y="753.47" width="41.9" height="36.67" fill="#72D0AE"/>
<rect x="365.4" y="753.47" width="83.2" height="36.67" fill="#78D08A"/>
<rect x="448" y="753.47" width="124.5" height="36.67" fill="#82D173"/>
<rect x="571.9" y="753.47" width="124.5" height="36.67" fill="#78D08A"/>
<rect x="695.8" y="753.47" width="413.6" height="36.67" fill="#72D0AE"/>
<rect x="1108.8" y="753.47" width="124.5" height="36.67" fill="#78D08A"/>
<rect x="1232.7" y="753.47" width="49.9" height="36.67" fill="#82D173"/>
<rect x="233.5" y="789.55" width="91.2" height="36.67" fill="#66CDD8"/>
<rect x="324.1" y="789.55" width="41.9" height="36.67" fill="#6ECFC6"/>
<rect x="365.4" y="789.55" width="41.9" height="36.67" fill="#72D0AE"/>
<rect x="406.7" y="789.55" width="165.8" height="36.67" fill="#78D08A"/>
<rect x="571.9" y="789.55" width="124.5" height="36.67" fill="#72D0AE"/>
<rect x="695.8" y="789.55" width="413.6" height="36.67" fill="#6ECFC6"/>
<rect x="1108.8" y="789.55" width="41.9" height="36.67" fill="#72D0AE"/>
<rect x="1150.1" y="789.55" width="132.5" height="36.67" fill="#78D08A"/>
<rect x="233.5" y="825.62" width="49.9" height="36.67" fill="#5BCAE8"/>
<rect x="282.8" y="825.62" width="83.2" height="36.67" fill="#66CDD8"/>
<rect x="365.4" y="825.62" width="83.2" height="36.67" fill="#6ECFC6"/>
<rect x="448" y="825.62" width="83.2" height="36.67" fill="#72D0AE"/>
<rect x="530.6" y="825.62" width="83.2" height="36.67" fill="#6ECFC6"/>
<rect x="613.2" y="825.62" width="165.8" height="36.67" fill="#66CDD8"/>
<rect x="778.4" y="825.62" width="165.8" height="36.67" fill="#6ECFC6"/>
<rect x="943.6" y="825.62" width="165.8" height="36.67" fill="#66CDD8"/>
<rect x="1108.8" y="825.62" width="41.9" height="36.67" fill="#6ECFC6"/>
<rect x="1150.1" y="825.62" width="83.2" height="36.67" fill="#72D0AE"/>
<rect x="1232.7" y="825.62" width="49.9" height="36.67" fill="#78D08A"/>
<rect x="233.5" y="861.69" width="380.3" height="36.67" fill="#66CDD8"/>
<rect x="613.2" y="861.69" width="165.8" height="36.67" fill="#54C7F0"/>
<rect x="778.4" y="861.69" width="165.8" height="36.67" fill="#5BCAE8"/>
<rect x="943.6" y="861.69" width="207.1" height="36.67" fill="#66CDD8"/>
<rect x="1150.1" y="861.69" width="41.9" height="36.67" fill="#6ECFC6"/>
<rect x="1191.4" y="861.69" width="91.2" height="36.67" fill="#72D0AE"/>
<rect x="233.5" y="897.77" width="49.9" height="36.67" fill="#72D0AE"/>
<rect x="282.8" y="897.77" width="41.9" height="36.67" fill="#6ECFC6"/>
<rect x="324.1" y="897.77" width="83.2" height="36.67" fill="#66CDD8"/>
<rect x="406.7" y="897.77" width="124.5" height="36.67" fill="#5BCAE8"/>
<rect x="530.6" y="897.77" width="165.8" height="36.67" fill="#54C7F0"/>
<rect x="695.8" y="897.77" width="83.2" height="36.67" fill="#53B8EA"/>
<rect x="778.4" y="897.77" width="372.3" height="36.67" fill="#54C7F0"/>
<rect x="1150.1" y="897.77" width="41.9" height="36.67" fill="#66CDD8"/>
<rect x="1191.4" y="897.77" width="41.9" height="36.67" fill="#6ECFC6"/>
<rect x="1232.7" y="897.77" width="49.9" height="36.67" fill="#72D0AE"/>
<rect x="233.5" y="933.84" width="49.9" height="36.67" fill="#82D173"/>
<rect x="282.8" y="933.84" width="41.9" height="36.67" fill="#78D08A"/>
<rect x="324.1" y="933.84" width="41.9" height="36.67" fill="#6ECFC6"/>
<rect x="365.4" y="933.84" width="41.9" height="36.67" fill="#66CDD8"/>
<rect x="406.7" y="933.84" width="165.8" height="36.67" fill="#54C7F0"/>
<rect x="571.9" y="933.84" width="124.5" height="36.67" fill="#53B8EA"/>
<rect x="695.8" y="933.84" width="289.7" height="36.67" fill="#51AAE5"/>
<rect x="984.9" y="933.84" width="83.2" height="36.67" fill="#53B8EA"/>
<rect x="1067.5" y="933.84" width="83.2" height="36.67" fill="#54C7F0"/>
<rect x="1150.1" y="933.84" width="41.9" height="36.67" fill="#66CDD8"/>
<rect x="1191.4" y="933.84" width="41.9" height="36.67" fill="#6ECFC6"/>
<rect x="1232.7" y="933.84" width="49.9" height="36.67" fill="#72D0AE"/>
<rect x="233.5" y="969.91" width="49.9" height="36.67" fill="#94D657"/>
<rect x="282.8" y="969.91" width="41.9" height="36.67" fill="#82D173"/>
<rect x="324.1" y="969.91" width="41.9" height="36.67" fill="#72D0AE"/>
<rect x="365.4" y="969.91" width="41.9" height="36.67" fill="#66CDD8"/>
<rect x="406.7" y="969.91" width="83.2" height="36.67" fill="#54C7F0"/>
<rect x="489.3" y="969.91" width="83.2" height="36.67" fill="#53B8EA"/>
<rect x="571.9" y="969.91" width="83.2" height="36.67" fill="#51AAE5"/>
<rect x="654.5" y="969.91" width="413.6" height="36.67" fill="#4F9CDE"/>
<rect x="1067.5" y="969.91" width="41.9" height="36.67" fill="#51AAE5"/>
<rect x="1108.8" y="969.91" width="41.9" height="36.67" fill="#54C7F0"/>
<rect x="1150.1" y="969.91" width="41.9" height="36.67" fill="#66CDD8"/>
<rect x="1191.4" y="969.91" width="41.9" height="36.67" fill="#6ECFC6"/>
<rect x="1232.7" y="969.91" width="49.9" height="36.67" fill="#78D08A"/>
<rect x="233.5" y="1005.99" width="49.9" height="36.67" fill="#A3DA4A"/>
<rect x="282.8" y="1005.99" width="41.9" height="36.67" fill="#94D657"/>
<rect x="324.1" y="1005.99" width="41.9" height="36.67" fill="#82D173"/>
<rect x="365.4" y="1005.99" width="41.9" height="36.67" fill="#72D0AE"/>
<rect x="406.7" y="1005.99" width="41.9" height="36.67" fill="#6ECFC6"/>
<rect x="448" y="1005.99" width="41.9" height="36.67" fill="#66CDD8"/>
<rect x="489.3" y="1005.99" width="41.9" height="36.67" fill="#54C7F0"/>
<rect x="530.6" y="1005.99" width="41.9" height="36.67" fill="#53B8EA"/>
<rect x="571.9" y="1005.99" width="41.9" height="36.67" fill="#51AAE5"/>
<rect x="613.2" y="1005.99" width="124.5" height="36.67" fill="#4F9CDE"/>
<rect x="737.1" y="1005.99" width="372.3" height="36.67" fill="#4A8ED6"/>
<rect x="1108.8" y="1005.99" width="41.9" height="36.67" fill="#53B8EA"/>
<rect x="1150.1" y="1005.99" width="41.9" height="36.67" fill="#66CDD8"/>
<rect x="1191.4" y="1005.99" width="41.9" height="36.67" fill="#6ECFC6"/>
<rect x="1232.7" y="1005.99" width="49.9" height="36.67" fill="#82D173"/>
<rect x="233.5" y="1042.06" width="49.9" height="36.67" fill="#BEE23C"/>
<rect x="282.8" y="1042.06" width="41.9" height="36.67" fill="#B2DE3E"/>
<rect x="324.1" y="1042.06" width="41.9" height="36.67" fill="#94D657"/>
<rect x="365.4" y="1042.06" width="41.9" height="36.67" fill="#82D173"/>
<rect x="406.7" y="1042.06" width="41.9" height="36.67" fill="#72D0AE"/>
<rect x="448" y="1042.06" width="41.9" height="36.67" fill="#6ECFC6"/>
<rect x="489.3" y="1042.06" width="41.9" height="36.67" fill="#66CDD8"/>
<rect x="530.6" y="1042.06" width="41.9" height="36.67" fill="#54C7F0"/>
<rect x="571.9" y="1042.06" width="41.9" height="36.67" fill="#51AAE5"/>
<rect x="613.2" y="1042.06" width="248.4" height="36.67" fill="#4A8ED6"/>
<rect x="861" y="1042.06" width="41.9" height="36.67" fill="#4F9CDE"/>
<rect x="902.3" y="1042.06" width="83.2" height="36.67" fill="#51AAE5"/>
<rect x="984.9" y="1042.06" width="124.5" height="36.67" fill="#4A8ED6"/>
<rect x="1108.8" y="1042.06" width="41.9" height="36.67" fill="#53B8EA"/>
<rect x="1150.1" y="1042.06" width="41.9" height="36.67" fill="#66CDD8"/>
<rect x="1191.4" y="1042.06" width="41.9" height="36.67" fill="#6ECFC6"/>
<rect x="1232.7" y="1042.06" width="49.9" height="36.67" fill="#94D657"/>
<rect x="233.5" y="1078.13" width="49.9" height="36.67" fill="#BEE23C"/>
<rect x="282.8" y="1078.13" width="41.9" height="36.67" fill="#B2DE3E"/>
<rect x="324.1" y="1078.13" width="41.9" height="36.67" fill="#A3DA4A"/>
<rect x="365.4" y="1078.13" width="41.9" height="36.67" fill="#94D657"/>
<rect x="406.7" y="1078.13" width="41.9" height="36.67" fill="#82D173"/>
<rect x="448" y="1078.13" width="41.9" height="36.67" fill="#78D08A"/>
<rect x="489.3" y="1078.13" width="41.9" height="36.67" fill="#6ECFC6"/>
<rect x="530.6" y="1078.13" width="41.9" height="36.67" fill="#66CDD8"/>
<rect x="571.9" y="1078.13" width="41.9" height="36.67" fill="#54C7F0"/>
<rect x="613.2" y="1078.13" width="41.9" height="36.67" fill="#4F9CDE"/>
<rect x="654.5" y="1078.13" width="165.8" height="36.67" fill="#4A8ED6"/>
<rect x="819.7" y="1078.13" width="41.9" height="36.67" fill="#4F9CDE"/>
<rect x="861" y="1078.13" width="41.9" height="36.67" fill="#51AAE5"/>
<rect x="902.3" y="1078.13" width="83.2" height="36.67" fill="#54C7F0"/>
<rect x="984.9" y="1078.13" width="41.9" height="36.67" fill="#51AAE5"/>
<rect x="1026.2" y="1078.13" width="41.9" height="36.67" fill="#4F9CDE"/>
<rect x="1067.5" y="1078.13" width="41.9" height="36.67" fill="#4A8ED6"/>
<rect x="1108.8" y="1078.13" width="41.9" height="36.67" fill="#53B8EA"/>
<rect x="1150.1" y="1078.13" width="41.9" height="36.67" fill="#66CDD8"/>
<rect x="1191.4" y="1078.13" width="41.9" height="36.67" fill="#6ECFC6"/>
<rect x="1232.7" y="1078.13" width="49.9" height="36.67" fill="#94D657"/>
<rect x="233.5" y="1114.21" width="132.5" height="36.67" fill="#B2DE3E"/>
<rect x="365.4" y="1114.21" width="41.9" height="36.67" fill="#A3DA4A"/>
<rect x="406.7" y="1114.21" width="83.2" height="36.67" fill="#94D657"/>
<rect x="489.3" y="1114.21" width="41.9" height="36.67" fill="#82D173"/>
<rect x="530.6" y="1114.21" width="41.9" height="36.67" fill="#78D08A"/>
<rect x="571.9" y="1114.21" width="41.9" height="36.67" fill="#72D0AE"/>
<rect x="613.2" y="1114.21" width="41.9" height="36.67" fill="#66CDD8"/>
<rect x="654.5" y="1114.21" width="165.8" height="36.67" fill="#54C7F0"/>
<rect x="819.7" y="1114.21" width="83.2" height="36.67" fill="#66CDD8"/>
<rect x="902.3" y="1114.21" width="41.9" height="36.67" fill="#6ECFC6"/>
<rect x="943.6" y="1114.21" width="83.2" height="36.67" fill="#66CDD8"/>
<rect x="1026.2" y="1114.21" width="41.9" height="36.67" fill="#54C7F0"/>
<rect x="1067.5" y="1114.21" width="41.9" height="36.67" fill="#4F9CDE"/>
<rect x="1108.8" y="1114.21" width="41.9" height="36.67" fill="#53B8EA"/>
<rect x="1150.1" y="1114.21" width="41.9" height="36.67" fill="#66CDD8"/>
<rect x="1191.4" y="1114.21" width="41.9" height="36.67" fill="#6ECFC6"/>
<rect x="1232.7" y="1114.21" width="49.9" height="36.67" fill="#82D173"/>
<rect x="233.5" y="1150.28" width="173.8" height="36.67" fill="#B2DE3E"/>
<rect x="406.7" y="1150.28" width="83.2" height="36.67" fill="#A3DA4A"/>
<rect x="489.3" y="1150.28" width="41.9" height="36.67" fill="#94D657"/>
<rect x="530.6" y="1150.28" width="83.2" height="36.67" fill="#82D173"/>
<rect x="613.2" y="1150.28" width="41.9" height="36.67" fill="#72D0AE"/>
<rect x="654.5" y="1150.28" width="165.8" height="36.67" fill="#6ECFC6"/>
<rect x="819.7" y="1150.28" width="83.2" height="36.67" fill="#72D0AE"/>
<rect x="902.3" y="1150.28" width="83.2" height="36.67" fill="#78D08A"/>
<rect x="984.9" y="1150.28" width="41.9" height="36.67" fill="#6ECFC6"/>
<rect x="1026.2" y="1150.28" width="41.9" height="36.67" fill="#66CDD8"/>
<rect x="1067.5" y="1150.28" width="83.2" height="36.67" fill="#54C7F0"/>
<rect x="1150.1" y="1150.28" width="41.9" height="36.67" fill="#66CDD8"/>
<rect x="1191.4" y="1150.28" width="41.9" height="36.67" fill="#6ECFC6"/>
<rect x="1232.7" y="1150.28" width="49.9" height="36.67" fill="#72D0AE"/>
<rect x="233.5" y="1186.35" width="215.1" height="36.67" fill="#B2DE3E"/>
<rect x="448" y="1186.35" width="83.2" height="36.67" fill="#A3DA4A"/>
<rect x="530.6" y="1186.35" width="83.2" height="36.67" fill="#94D657"/>
<rect x="613.2" y="1186.35" width="83.2" height="36.67" fill="#82D173"/>
<rect x="695.8" y="1186.35" width="289.7" height="36.67" fill="#78D08A"/>
<rect x="984.9" y="1186.35" width="41.9" height="36.67" fill="#72D0AE"/>
<rect x="1026.2" y="1186.35" width="41.9" height="36.67" fill="#6ECFC6"/>
<rect x="1067.5" y="1186.35" width="124.5" height="36.67" fill="#66CDD8"/>
<rect x="1191.4" y="1186.35" width="41.9" height="36.67" fill="#6ECFC6"/>
<rect x="1232.7" y="1186.35" width="49.9" height="36.67" fill="#72D0AE"/>
<rect x="233.5" y="1222.43" width="91.2" height="44.67" fill="#A3DA4A"/>
<rect x="324.1" y="1222.43" width="165.8" height="44.67" fill="#B2DE3E"/>
<rect x="489.3" y="1222.43" width="83.2" height="44.67" fill="#A3DA4A"/>
<rect x="571.9" y="1222.43" width="207.1" height="44.67" fill="#94D657"/>
<rect x="778.4" y="1222.43" width="124.5" height="44.67" fill="#82D173"/>
<rect x="902.3" y="1222.43" width="124.5" height="44.67" fill="#78D08A"/>
<rect x="1026.2" y="1222.43" width="207.1" height="44.67" fill="#6ECFC6"/>
<rect x="1232.7" y="1222.43" width="49.9" height="44.67" fill="#72D0AE"/>
</g></g>
<g clip-path="url(#cpc)"><use href="#bd" filter="url(#bl2)" transform="translate(241.5 717.4) scale(1.00029 1.00259) translate(-242 -70.3)"/></g>
<path d="M260.4 1258.5v-11M260.4 717.4v11M426.05 1258.5v-11M426.05 717.4v11M591.7 1258.5v-11M591.7 717.4v11M757.35 1258.5v-11M757.35 717.4v11M923 1258.5v-11M923 717.4v11M1088.65 1258.5v-11M1088.65 717.4v11M1254.3 1258.5v-11M1254.3 717.4v11M241.5 734.9h11M1274 734.9h-11M241.5 902.65h11M1274 902.65h-11M241.5 1070.4h11M1274 1070.4h-11M241.5 1238.15h11M1274 1238.15h-11" stroke="#1b2a22" stroke-width="2" fill="none"/>
<rect x="241.5" y="717.4" width="1032.5" height="541.1" fill="none" stroke="#1b2a22" stroke-width="2"/>
<g clip-path="url(#cpd)"><g filter="url(#bl)" shape-rendering="crispEdges">
<rect x="1347.2" y="707.5" width="50.35" height="44.83" fill="#6ECFC6"/>
<rect x="1396.95" y="707.5" width="42.35" height="44.83" fill="#72D0AE"/>
<rect x="1438.7" y="707.5" width="292.86" height="44.83" fill="#78D08A"/>
<rect x="1730.97" y="707.5" width="84.1" height="44.83" fill="#82D173"/>
<rect x="1814.47" y="707.5" width="42.35" height="44.83" fill="#78D08A"/>
<rect x="1856.22" y="707.5" width="84.1" height="44.83" fill="#82D173"/>
<rect x="1939.73" y="707.5" width="292.86" height="44.83" fill="#74CF98"/>
<rect x="2231.99" y="707.5" width="175.61" height="44.83" fill="#78D08A"/>
<rect x="1347.2" y="751.73" width="50.35" height="36.83" fill="#66CDD8"/>
<rect x="1396.95" y="751.73" width="42.35" height="36.83" fill="#6ECFC6"/>
<rect x="1438.7" y="751.73" width="125.86" height="36.83" fill="#72D0AE"/>
<rect x="1563.96" y="751.73" width="251.11" height="36.83" fill="#78D08A"/>
<rect x="1814.47" y="751.73" width="418.12" height="36.83" fill="#72D0AE"/>
<rect x="2231.99" y="751.73" width="175.61" height="36.83" fill="#78D08A"/>
<rect x="1347.2" y="787.97" width="50.35" height="36.83" fill="#5BCAE8"/>
<rect x="1396.95" y="787.97" width="42.35" height="36.83" fill="#66CDD8"/>
<rect x="1438.7" y="787.97" width="125.86" height="36.83" fill="#6ECFC6"/>
<rect x="1563.96" y="787.97" width="167.61" height="36.83" fill="#72D0AE"/>
<rect x="1730.97" y="787.97" width="543.38" height="36.83" fill="#6ECFC6"/>
<rect x="2273.74" y="787.97" width="84.1" height="36.83" fill="#72D0AE"/>
<rect x="2357.25" y="787.97" width="50.35" height="36.83" fill="#78D08A"/>
<rect x="1347.2" y="824.2" width="50.35" height="36.83" fill="#5BCAE8"/>
<rect x="1396.95" y="824.2" width="167.61" height="36.83" fill="#66CDD8"/>
<rect x="1563.96" y="824.2" width="167.61" height="36.83" fill="#6ECFC6"/>
<rect x="1730.97" y="824.2" width="209.36" height="36.83" fill="#66CDD8"/>
<rect x="1939.73" y="824.2" width="167.61" height="36.83" fill="#6ECFC6"/>
<rect x="2106.74" y="824.2" width="125.86" height="36.83" fill="#66CDD8"/>
<rect x="2231.99" y="824.2" width="42.35" height="36.83" fill="#6ECFC6"/>
<rect x="2273.74" y="824.2" width="84.1" height="36.83" fill="#72D0AE"/>
<rect x="2357.25" y="824.2" width="50.35" height="36.83" fill="#78D08A"/>
<rect x="1347.2" y="860.43" width="426.12" height="36.83" fill="#66CDD8"/>
<rect x="1772.72" y="860.43" width="251.11" height="36.83" fill="#5BCAE8"/>
<rect x="2023.23" y="860.43" width="251.11" height="36.83" fill="#66CDD8"/>
<rect x="2273.74" y="860.43" width="84.1" height="36.83" fill="#6ECFC6"/>
<rect x="2357.25" y="860.43" width="50.35" height="36.83" fill="#72D0AE"/>
<rect x="1347.2" y="896.67" width="50.35" height="36.83" fill="#72D0AE"/>
<rect x="1396.95" y="896.67" width="42.35" height="36.83" fill="#6ECFC6"/>
<rect x="1438.7" y="896.67" width="209.36" height="36.83" fill="#66CDD8"/>
<rect x="1647.46" y="896.67" width="376.37" height="36.83" fill="#5BCAE8"/>
<rect x="2023.23" y="896.67" width="251.11" height="36.83" fill="#66CDD8"/>
<rect x="2273.74" y="896.67" width="84.1" height="36.83" fill="#6ECFC6"/>
<rect x="2357.25" y="896.67" width="50.35" height="36.83" fill="#72D0AE"/>
<rect x="1347.2" y="932.9" width="50.35" height="36.83" fill="#78D08A"/>
<rect x="1396.95" y="932.9" width="42.35" height="36.83" fill="#72D0AE"/>
<rect x="1438.7" y="932.9" width="42.35" height="36.83" fill="#6ECFC6"/>
<rect x="1480.46" y="932.9" width="167.61" height="36.83" fill="#66CDD8"/>
<rect x="1647.46" y="932.9" width="125.86" height="36.83" fill="#5BCAE8"/>
<rect x="1772.72" y="932.9" width="125.86" height="36.83" fill="#54C7F0"/>
<rect x="1897.98" y="932.9" width="167.61" height="36.83" fill="#5BCAE8"/>
<rect x="2064.98" y="932.9" width="209.36" height="36.83" fill="#66CDD8"/>
<rect x="2273.74" y="932.9" width="84.1" height="36.83" fill="#6ECFC6"/>
<rect x="2357.25" y="932.9" width="50.35" height="36.83" fill="#72D0AE"/>
<rect x="1347.2" y="969.13" width="50.35" height="36.83" fill="#82D173"/>
<rect x="1396.95" y="969.13" width="42.35" height="36.83" fill="#78D08A"/>
<rect x="1438.7" y="969.13" width="42.35" height="36.83" fill="#6ECFC6"/>
<rect x="1480.46" y="969.13" width="167.61" height="36.83" fill="#66CDD8"/>
<rect x="1647.46" y="969.13" width="125.86" height="36.83" fill="#5BCAE8"/>
<rect x="1772.72" y="969.13" width="209.36" height="36.83" fill="#54C7F0"/>
<rect x="1981.48" y="969.13" width="167.61" height="36.83" fill="#5BCAE8"/>
<rect x="2148.49" y="969.13" width="167.61" height="36.83" fill="#66CDD8"/>
<rect x="2315.5" y="969.13" width="42.35" height="36.83" fill="#6ECFC6"/>
<rect x="2357.25" y="969.13" width="50.35" height="36.83" fill="#72D0AE"/>
<rect x="1347.2" y="1005.37" width="92.1" height="36.83" fill="#82D173"/>
<rect x="1438.7" y="1005.37" width="42.35" height="36.83" fill="#72D0AE"/>
<rect x="1480.46" y="1005.37" width="42.35" height="36.83" fill="#6ECFC6"/>
<rect x="1522.21" y="1005.37" width="167.61" height="36.83" fill="#66CDD8"/>
<rect x="1689.22" y="1005.37" width="84.1" height="36.83" fill="#5BCAE8"/>
<rect x="1772.72" y="1005.37" width="251.11" height="36.83" fill="#54C7F0"/>
<rect x="2023.23" y="1005.37" width="42.35" height="36.83" fill="#5BCAE8"/>
<rect x="2064.98" y="1005.37" width="251.11" height="36.83" fill="#66CDD8"/>
<rect x="2315.5" y="1005.37" width="42.35" height="36.83" fill="#6ECFC6"/>
<rect x="2357.25" y="1005.37" width="50.35" height="36.83" fill="#72D0AE"/>
<rect x="1347.2" y="1041.6" width="92.1" height="36.83" fill="#82D173"/>
<rect x="1438.7" y="1041.6" width="42.35" height="36.83" fill="#78D08A"/>
<rect x="1480.46" y="1041.6" width="42.35" height="36.83" fill="#72D0AE"/>
<rect x="1522.21" y="1041.6" width="42.35" height="36.83" fill="#6ECFC6"/>
<rect x="1563.96" y="1041.6" width="125.86" height="36.83" fill="#66CDD8"/>
<rect x="1689.22" y="1041.6" width="84.1" height="36.83" fill="#5BCAE8"/>
<rect x="1772.72" y="1041.6" width="125.86" height="36.83" fill="#54C7F0"/>
<rect x="1897.98" y="1041.6" width="42.35" height="36.83" fill="#5BCAE8"/>
<rect x="1939.73" y="1041.6" width="84.1" height="36.83" fill="#54C7F0"/>
<rect x="2023.23" y="1041.6" width="292.86" height="36.83" fill="#66CDD8"/>
<rect x="2315.5" y="1041.6" width="42.35" height="36.83" fill="#72D0AE"/>
<rect x="2357.25" y="1041.6" width="50.35" height="36.83" fill="#82D173"/>
<rect x="1347.2" y="1077.83" width="133.86" height="36.83" fill="#82D173"/>
<rect x="1480.46" y="1077.83" width="42.35" height="36.83" fill="#78D08A"/>
<rect x="1522.21" y="1077.83" width="84.1" height="36.83" fill="#72D0AE"/>
<rect x="1605.71" y="1077.83" width="42.35" height="36.83" fill="#6ECFC6"/>
<rect x="1647.46" y="1077.83" width="84.1" height="36.83" fill="#66CDD8"/>
<rect x="1730.97" y="1077.83" width="42.35" height="36.83" fill="#5BCAE8"/>
<rect x="1772.72" y="1077.83" width="167.61" height="36.83" fill="#54C7F0"/>
<rect x="1939.73" y="1077.83" width="42.35" height="36.83" fill="#5BCAE8"/>
<rect x="1981.48" y="1077.83" width="42.35" height="36.83" fill="#54C7F0"/>
<rect x="2023.23" y="1077.83" width="84.1" height="36.83" fill="#6ECFC6"/>
<rect x="2106.74" y="1077.83" width="167.61" height="36.83" fill="#66CDD8"/>
<rect x="2273.74" y="1077.83" width="42.35" height="36.83" fill="#6ECFC6"/>
<rect x="2315.5" y="1077.83" width="42.35" height="36.83" fill="#72D0AE"/>
<rect x="2357.25" y="1077.83" width="50.35" height="36.83" fill="#82D173"/>
<rect x="1347.2" y="1114.07" width="217.36" height="36.83" fill="#82D173"/>
<rect x="1563.96" y="1114.07" width="42.35" height="36.83" fill="#78D08A"/>
<rect x="1605.71" y="1114.07" width="42.35" height="36.83" fill="#72D0AE"/>
<rect x="1647.46" y="1114.07" width="84.1" height="36.83" fill="#6ECFC6"/>
<rect x="1730.97" y="1114.07" width="209.36" height="36.83" fill="#66CDD8"/>
<rect x="1939.73" y="1114.07" width="84.1" height="36.83" fill="#6ECFC6"/>
<rect x="2023.23" y="1114.07" width="84.1" height="36.83" fill="#72D0AE"/>
<rect x="2106.74" y="1114.07" width="42.35" height="36.83" fill="#6ECFC6"/>
<rect x="2148.49" y="1114.07" width="167.61" height="36.83" fill="#66CDD8"/>
<rect x="2315.5" y="1114.07" width="42.35" height="36.83" fill="#72D0AE"/>
<rect x="2357.25" y="1114.07" width="50.35" height="36.83" fill="#82D173"/>
<rect x="1347.2" y="1150.3" width="133.86" height="36.83" fill="#82D173"/>
<rect x="1480.46" y="1150.3" width="125.86" height="36.83" fill="#94D657"/>
<rect x="1605.71" y="1150.3" width="42.35" height="36.83" fill="#82D173"/>
<rect x="1647.46" y="1150.3" width="84.1" height="36.83" fill="#78D08A"/>
<rect x="1730.97" y="1150.3" width="84.1" height="36.83" fill="#72D0AE"/>
<rect x="1814.47" y="1150.3" width="42.35" height="36.83" fill="#6ECFC6"/>
<rect x="1856.22" y="1150.3" width="167.61" height="36.83" fill="#72D0AE"/>
<rect x="2023.23" y="1150.3" width="84.1" height="36.83" fill="#78D08A"/>
<rect x="2106.74" y="1150.3" width="42.35" height="36.83" fill="#72D0AE"/>
<rect x="2148.49" y="1150.3" width="167.61" height="36.83" fill="#6ECFC6"/>
<rect x="2315.5" y="1150.3" width="42.35" height="36.83" fill="#72D0AE"/>
<rect x="2357.25" y="1150.3" width="50.35" height="36.83" fill="#78D08A"/>
<rect x="1347.2" y="1186.53" width="133.86" height="36.83" fill="#82D173"/>
<rect x="1480.46" y="1186.53" width="209.36" height="36.83" fill="#94D657"/>
<rect x="1689.22" y="1186.53" width="84.1" height="36.83" fill="#82D173"/>
<rect x="1772.72" y="1186.53" width="84.1" height="36.83" fill="#78D08A"/>
<rect x="1856.22" y="1186.53" width="251.11" height="36.83" fill="#82D173"/>
<rect x="2106.74" y="1186.53" width="42.35" height="36.83" fill="#78D08A"/>
<rect x="2148.49" y="1186.53" width="42.35" height="36.83" fill="#72D0AE"/>
<rect x="2190.24" y="1186.53" width="125.86" height="36.83" fill="#6ECFC6"/>
<rect x="2315.5" y="1186.53" width="42.35" height="36.83" fill="#72D0AE"/>
<rect x="2357.25" y="1186.53" width="50.35" height="36.83" fill="#78D08A"/>
<rect x="1347.2" y="1222.77" width="175.61" height="44.83" fill="#82D173"/>
<rect x="1522.21" y="1222.77" width="418.12" height="44.83" fill="#94D657"/>
<rect x="1939.73" y="1222.77" width="167.61" height="44.83" fill="#82D173"/>
<rect x="2106.74" y="1222.77" width="42.35" height="44.83" fill="#78D08A"/>
<rect x="2148.49" y="1222.77" width="42.35" height="44.83" fill="#72D0AE"/>
<rect x="2190.24" y="1222.77" width="125.86" height="44.83" fill="#6ECFC6"/>
<rect x="2315.5" y="1222.77" width="42.35" height="44.83" fill="#72D0AE"/>
<rect x="2357.25" y="1222.77" width="50.35" height="44.83" fill="#78D08A"/>
</g></g>
<g clip-path="url(#cpd)"><use href="#bd" filter="url(#bl2)" transform="translate(1355.2 715.5) scale(1.01124 1.00704) translate(-242 -70.3)"/></g>
<path d="M1376.6 1259v-11M1376.6 715.5v11M1543.65 1259v-11M1543.65 715.5v11M1710.7 1259v-11M1710.7 715.5v11M1877.75 1259v-11M1877.75 715.5v11M2044.8 1259v-11M2044.8 715.5v11M2211.85 1259v-11M2211.85 715.5v11M2378.9 1259v-11M2378.9 715.5v11M1355.2 733.5h11M2399 733.5h-11M1355.2 901.5h11M2399 901.5h-11M1355.2 1069.5h11M2399 1069.5h-11M1355.2 1237.5h11M2399 1237.5h-11" stroke="#1b2a22" stroke-width="2" fill="none"/>
<rect x="1355.2" y="715.5" width="1043.8" height="543.5" fill="none" stroke="#1b2a22" stroke-width="2"/>
<rect x="2423" y="76.3" width="57" height="530.9" fill="url(#cb)" stroke="#1a1a1a" stroke-width="2"/>
<path d="M2480 164.78h-5M2480 253.27h-5M2480 341.75h-5M2480 430.23h-5M2480 518.72h-5" stroke="#1a1a1a" stroke-width="2"/>
<rect x="2426" y="717.1" width="57" height="540.9" fill="url(#cb)" stroke="#1a1a1a" stroke-width="2"/>
<path d="M2483 807.25h-5M2483 897.4h-5M2483 987.55h-5M2483 1077.7h-5M2483 1167.85h-5" stroke="#1a1a1a" stroke-width="2"/>
<text transform="translate(256.37,62.31) scale(1.0530,1)" font-size="55">N</text>
<text transform="translate(690.79,46.12) scale(1.0210,1)" font-size="55">Spring</text>
<text transform="translate(1200.79,46.75) scale(1.1235,1)" font-size="55">(a)</text>
<text transform="translate(1783.78,46.72) scale(1.0231,1)" font-size="55">Summer</text>
<text transform="translate(2326.82,47.3) scale(1.1100,1)" font-size="55">(b)</text>
<text transform="translate(669.3,690.57) scale(1.0076,1)" font-size="55">Autumn</text>
<text transform="translate(1192.21,691.35) scale(1.1130,1)" font-size="55">(c)</text>
<text transform="translate(1804.8,692.97) scale(1.0228,1)" font-size="55">Winter</text>
<text transform="translate(2312.54,694.05) scale(1.1000,1)" font-size="55">(d)</text>
<text transform="translate(176.18,108.97) scale(1.0336,1)" font-size="55">40</text>
<text transform="translate(175.54,276.97) scale(1.0042,1)" font-size="55">35</text>
<text transform="translate(175.42,444.82) scale(1.0441,1)" font-size="55">30</text>
<text transform="translate(176.54,613.12) scale(0.9986,1)" font-size="55">25</text>
<text transform="translate(176.99,748.77) scale(1.0239,1)" font-size="55">40</text>
<text transform="translate(175.04,916.77) scale(1.0042,1)" font-size="55">35</text>
<text transform="translate(174.92,1084.92) scale(1.0441,1)" font-size="55">30</text>
<text transform="translate(176.04,1253.02) scale(0.9966,1)" font-size="55">25</text>
<text transform="translate(2501.55,89.92) scale(1.0000,1)" font-size="55">30</text>
<text transform="translate(2502.54,179.72) scale(1.0000,1)" font-size="55">20</text>
<text transform="translate(2503.39,271.92) scale(1.0000,1)" font-size="55">10</text>
<text transform="translate(2502.54,361.72) scale(1.0000,1)" font-size="55">0</text>
<text transform="translate(2502.05,453.32) scale(1.0000,1)" font-size="55">−10</text>
<text transform="translate(2502.05,543.22) scale(1.0000,1)" font-size="55">−20</text>
<text transform="translate(2502.05,633.02) scale(1.0000,1)" font-size="55">−30</text>
<text transform="translate(2501.55,732.92) scale(1.0000,1)" font-size="55">30</text>
<text transform="translate(2502.54,823.62) scale(1.0000,1)" font-size="55">20</text>
<text transform="translate(2503.39,914.32) scale(1.0000,1)" font-size="55">10</text>
<text transform="translate(2502.54,1004.92) scale(1.0000,1)" font-size="55">0</text>
<text transform="translate(2502.05,1095.72) scale(1.0000,1)" font-size="55">−10</text>
<text transform="translate(2502.05,1186.82) scale(1.0000,1)" font-size="55">−20</text>
<text transform="translate(2502.05,1277.02) scale(1.0000,1)" font-size="55">−30</text>
<text transform="translate(234.42,1315.07) scale(1.0000,1)" font-size="55">75</text>
<text transform="translate(402.5,1315.07) scale(1.0000,1)" font-size="55">80</text>
<text transform="translate(568.3,1315.07) scale(1.0000,1)" font-size="55">85</text>
<text transform="translate(736.25,1315.07) scale(1.0000,1)" font-size="55">90</text>
<text transform="translate(901,1315.07) scale(1.0000,1)" font-size="55">95</text>
<text transform="translate(1056.18,1315.07) scale(1.0000,1)" font-size="55">100</text>
<text transform="translate(1221.58,1315.07) scale(1.0000,1)" font-size="55">105</text>
<text transform="translate(1358.02,1315.07) scale(1.0000,1)" font-size="55">75</text>
<text transform="translate(1527.7,1315.07) scale(1.0000,1)" font-size="55">80</text>
<text transform="translate(1693,1315.07) scale(1.0000,1)" font-size="55">85</text>
<text transform="translate(1860.1,1315.07) scale(1.0000,1)" font-size="55">90</text>
<text transform="translate(2025.8,1315.07) scale(1.0000,1)" font-size="55">95</text>
<text transform="translate(2179.28,1315.07) scale(1.0000,1)" font-size="55">100</text>
<text transform="translate(2346.08,1315.07) scale(1.0000,1)" font-size="55">105</text>
<text transform="translate(2441.68,1315.51) scale(1.0379,1)" font-size="55">E</text>
<text transform="translate(595.81,1394.15) scale(1.0105,1)" font-size="55">Longitude / (</text>
<text transform="translate(886.12,1369.56) scale(0.9981,1)" font-size="36">o</text>
<text transform="translate(904.9,1393.66) scale(1.0691,1)" font-size="55">)</text>
<text transform="translate(1720.01,1394.15) scale(1.0105,1)" font-size="55">Longitude / (</text>
<text transform="translate(2010.32,1369.56) scale(0.9981,1)" font-size="36">o</text>
<text transform="translate(2029.1,1393.66) scale(1.0691,1)" font-size="55">)</text>
<text transform="translate(127.5,483.89) rotate(-90) scale(1.0107,1)" font-size="55">Latitude / (</text>
<text transform="translate(102.41,238.49) rotate(-90) scale(1.1602,1)" font-size="36">o</text>
<text transform="translate(127.11,218.67) rotate(-90) scale(1.0545,1)" font-size="55">)</text>
<text transform="translate(127.5,1123.39) rotate(-90) scale(1.0107,1)" font-size="55">Latitude / (</text>
<text transform="translate(102.41,877.99) rotate(-90) scale(1.1602,1)" font-size="36">o</text>
<text transform="translate(127.11,858.17) rotate(-90) scale(1.0545,1)" font-size="55">)</text>
<text transform="translate(2663.6,530.62) rotate(-90) scale(1.0357,1)" font-size="55">Total ozone / DU</text>
<text transform="translate(2663.65,1172.32) rotate(-90) scale(1.0386,1)" font-size="55">Total ozone / DU</text>
</svg></body></html>
